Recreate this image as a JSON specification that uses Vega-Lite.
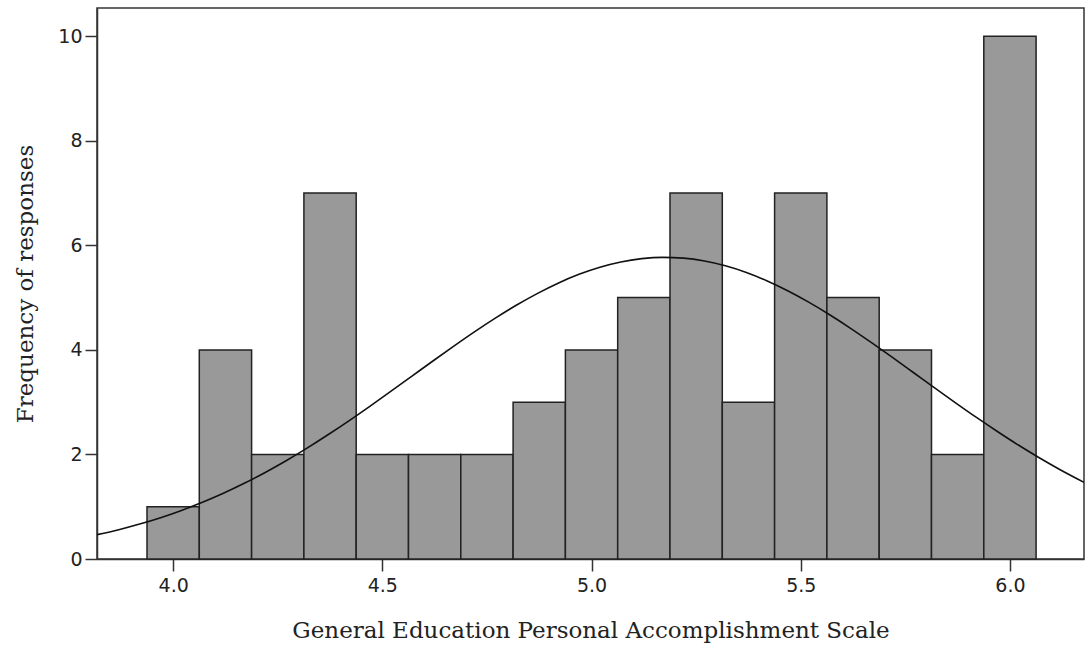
{
  "$schema": "https://vega.github.io/schema/vega-lite/v6.json",
  "width": 987,
  "height": 551,
  "autosize": {"type": "none"},
  "padding": {"left": 97, "top": 8, "right": 2, "bottom": 97},
  "background": "white",
  "config": {
    "view": {"stroke": "#333333", "strokeWidth": 1.5}
  },
  "datasets": {
    "bins": [
      {"bin_start": 3.9375, "bin_end": 4.0625, "count": 1},
      {"bin_start": 4.0625, "bin_end": 4.1875, "count": 4},
      {"bin_start": 4.1875, "bin_end": 4.3125, "count": 2},
      {"bin_start": 4.3125, "bin_end": 4.4375, "count": 7},
      {"bin_start": 4.4375, "bin_end": 4.5625, "count": 2},
      {"bin_start": 4.5625, "bin_end": 4.6875, "count": 2},
      {"bin_start": 4.6875, "bin_end": 4.8125, "count": 2},
      {"bin_start": 4.8125, "bin_end": 4.9375, "count": 3},
      {"bin_start": 4.9375, "bin_end": 5.0625, "count": 4},
      {"bin_start": 5.0625, "bin_end": 5.1875, "count": 5},
      {"bin_start": 5.1875, "bin_end": 5.3125, "count": 7},
      {"bin_start": 5.3125, "bin_end": 5.4375, "count": 3},
      {"bin_start": 5.4375, "bin_end": 5.5625, "count": 7},
      {"bin_start": 5.5625, "bin_end": 5.6875, "count": 5},
      {"bin_start": 5.6875, "bin_end": 5.8125, "count": 4},
      {"bin_start": 5.8125, "bin_end": 5.9375, "count": 2},
      {"bin_start": 5.9375, "bin_end": 6.0625, "count": 10}
    ],
    "normal": [
      {"score": 3.818, "freq": 0.465}, {"score": 3.87, "freq": 0.561},
      {"score": 3.92, "freq": 0.669}, {"score": 3.97, "freq": 0.791},
      {"score": 4.02, "freq": 0.930}, {"score": 4.07, "freq": 1.085},
      {"score": 4.12, "freq": 1.258}, {"score": 4.17, "freq": 1.448},
      {"score": 4.22, "freq": 1.656}, {"score": 4.27, "freq": 1.880},
      {"score": 4.32, "freq": 2.121}, {"score": 4.37, "freq": 2.376},
      {"score": 4.42, "freq": 2.643}, {"score": 4.47, "freq": 2.921},
      {"score": 4.52, "freq": 3.205}, {"score": 4.57, "freq": 3.494},
      {"score": 4.62, "freq": 3.783}, {"score": 4.67, "freq": 4.067},
      {"score": 4.72, "freq": 4.344}, {"score": 4.77, "freq": 4.607},
      {"score": 4.82, "freq": 4.853}, {"score": 4.87, "freq": 5.077},
      {"score": 4.92, "freq": 5.276}, {"score": 4.97, "freq": 5.445},
      {"score": 5.02, "freq": 5.581}, {"score": 5.07, "freq": 5.682},
      {"score": 5.12, "freq": 5.745}, {"score": 5.17, "freq": 5.770},
      {"score": 5.22, "freq": 5.755}, {"score": 5.27, "freq": 5.701},
      {"score": 5.32, "freq": 5.609}, {"score": 5.37, "freq": 5.481},
      {"score": 5.42, "freq": 5.319}, {"score": 5.47, "freq": 5.127},
      {"score": 5.52, "freq": 4.908}, {"score": 5.57, "freq": 4.667},
      {"score": 5.62, "freq": 4.408}, {"score": 5.67, "freq": 4.134},
      {"score": 5.72, "freq": 3.851}, {"score": 5.77, "freq": 3.563},
      {"score": 5.82, "freq": 3.274}, {"score": 5.87, "freq": 2.988},
      {"score": 5.92, "freq": 2.708}, {"score": 5.97, "freq": 2.439},
      {"score": 6.02, "freq": 2.180}, {"score": 6.07, "freq": 1.937},
      {"score": 6.12, "freq": 1.708}, {"score": 6.177, "freq": 1.467}
    ]
  },
  "layer": [
    {
      "data": {"name": "bins"},
      "mark": {"type": "rect", "fill": "#999999", "stroke": "#222222", "strokeWidth": 1.5},
      "encoding": {
        "x": {
          "field": "bin_start",
          "type": "quantitative",
          "scale": {"domain": [3.818, 6.177], "nice": false, "zero": false},
          "axis": {
            "title": "General Education Personal Accomplishment Scale",
            "values": [4.0, 4.5, 5.0, 5.5, 6.0],
            "format": ".1f",
            "grid": false,
            "domainColor": "#333333",
            "domainWidth": 1.5,
            "tickColor": "#333333",
            "tickWidth": 1.5,
            "tickSize": 12,
            "labelFont": "DejaVu Sans",
            "labelFontSize": 19,
            "labelColor": "#222222",
            "labelPadding": 5,
            "titleFont": "DejaVu Serif",
            "titleFontSize": 23,
            "titleFontWeight": "normal",
            "titleColor": "#222222",
            "titlePadding": 24
          }
        },
        "x2": {"field": "bin_end"},
        "y": {
          "field": "count",
          "type": "quantitative",
          "scale": {"domain": [0, 10.54], "nice": false},
          "axis": {
            "title": "Frequency of responses",
            "values": [0, 2, 4, 6, 8, 10],
            "grid": false,
            "domainColor": "#333333",
            "domainWidth": 1.5,
            "tickColor": "#333333",
            "tickWidth": 1.5,
            "tickSize": 12,
            "labelFont": "DejaVu Sans",
            "labelFontSize": 19,
            "labelColor": "#222222",
            "labelPadding": 3,
            "titleFont": "DejaVu Serif",
            "titleFontSize": 23,
            "titleFontWeight": "normal",
            "titleColor": "#222222",
            "titlePadding": 20
          }
        },
        "y2": {"datum": 0}
      }
    },
    {
      "data": {"name": "normal"},
      "mark": {"type": "line", "color": "#111111", "strokeWidth": 1.6, "interpolate": "monotone", "clip": true},
      "encoding": {
        "x": {"field": "score", "type": "quantitative"},
        "y": {"field": "freq", "type": "quantitative"}
      }
    }
  ]
}
